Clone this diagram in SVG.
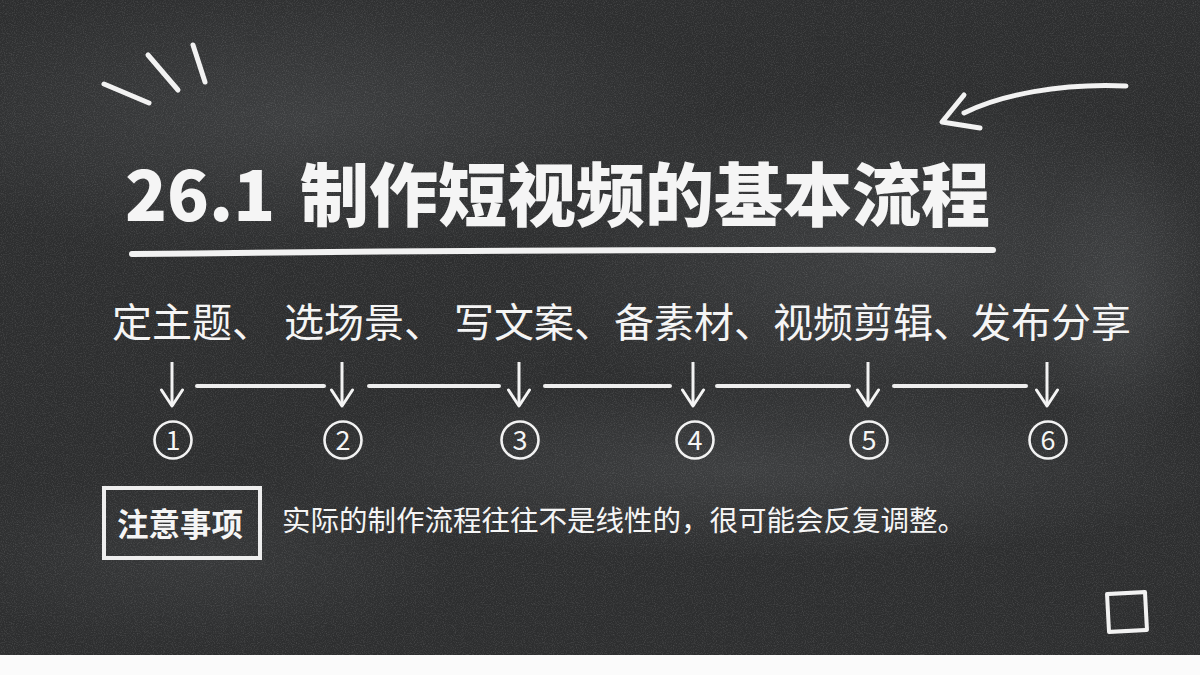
<svg xmlns="http://www.w3.org/2000/svg" width="1200" height="675" viewBox="0 0 1200 675">
  <defs>
    <radialGradient id="patch" cx="0.5" cy="0.5" r="0.5">
      <stop offset="0" stop-color="#4a4c4e" stop-opacity="0.55"/>
      <stop offset="1" stop-color="#4a4c4e" stop-opacity="0"/>
    </radialGradient>
    <filter id="grain" x="0" y="0" width="100%" height="100%">
      <feTurbulence type="fractalNoise" baseFrequency="0.9" numOctaves="2" seed="3" result="n"/>
      <feColorMatrix in="n" type="matrix" values="0 0 0 0 1  0 0 0 0 1  0 0 0 0 1  0 0 0 -2.2 1.25" result="speck"/>
      <feComposite in="speck" in2="SourceGraphic" operator="in"/>
    </filter>
    <marker id="head" viewBox="0 0 20 24" refX="18" refY="12" markerWidth="20" markerHeight="24" markerUnits="userSpaceOnUse" orient="auto">
      <path d="M2,1.5 L18,12 L2,22.5" fill="none" stroke="#f4f4f4" stroke-width="3" stroke-linecap="round" stroke-linejoin="round"/>
    </marker>
  </defs>
  <style>
    .chalk { stroke: #f2f2f2; fill: none; stroke-linecap: round; stroke-linejoin: round; }
    .title { font-family: "Noto Sans CJK SC", "Noto Sans", sans-serif; font-weight: 900; font-size: 69px; fill: #f5f5f5; }
    .step { font-family: "Noto Sans CJK SC", "Noto Sans", sans-serif; font-size: 40px; fill: #f5f5f5; }
    .num { font-family: "Noto Sans CJK SC", "Noto Sans", sans-serif; font-size: 27px; fill: #f5f5f5; text-anchor: middle; }
    .note { font-family: "Noto Sans CJK SC", "Noto Sans", sans-serif; font-size: 28.5px; fill: #f5f5f5; }
    .notehead { font-family: "Noto Sans CJK SC", "Noto Sans", sans-serif; font-weight: 700; font-size: 31.5px; fill: #f5f5f5; }
    .vline { stroke: #f2f2f2; stroke-width: 3; fill: none; }
    .hline { stroke: #eeeeee; stroke-width: 4; stroke-linecap: round; fill: none; }
    .circ { stroke: #f2f2f2; stroke-width: 2.6; fill: none; }
  </style>

  <!-- chalkboard background -->
  <g id="background">
    <rect x="0" y="0" width="1200" height="675" fill="#2d2e2f"/>
    <ellipse cx="300" cy="120" rx="420" ry="140" fill="url(#patch)"/>
    <ellipse cx="900" cy="260" rx="380" ry="170" fill="url(#patch)"/>
    <ellipse cx="750" cy="470" rx="480" ry="90" fill="url(#patch)"/>
    <ellipse cx="1120" cy="300" rx="90" ry="160" fill="url(#patch)"/>
    <ellipse cx="200" cy="560" rx="260" ry="90" fill="url(#patch)" opacity="0.6"/>
    <rect x="0" y="0" width="1200" height="655" fill="#2d2e2f" filter="url(#grain)" opacity="0.12"/>
    <rect x="0" y="655" width="1200" height="20" fill="#fbfbfb"/>
  </g>

  <!-- decorations -->
  <g id="decor-slashes" class="chalk" stroke-width="5">
    <line x1="104" y1="84" x2="149" y2="103"/>
    <line x1="148" y1="55" x2="178" y2="90"/>
    <line x1="193" y1="45" x2="205" y2="82"/>
  </g>
  <g id="decor-arrow" class="chalk" stroke-width="5">
    <path d="M1126,86 C1060,83 1000,95 964,113"/>
    <path d="M964,95 L942,122 L980,128"/>
  </g>
  <g id="decor-square" class="chalk" stroke-width="4">
    <rect x="1108" y="593" width="38" height="38" transform="rotate(-3 1127 612)"/>
  </g>

  <!-- title -->
  <g id="title">
    <text class="title" y="221"><tspan x="125">26.1</tspan><tspan x="300">制作短视频的基本流程</tspan></text>
    <path d="M132,254 Q560,249 993,250" class="chalk" stroke-width="6"/>
  </g>

  <!-- steps -->
  <g id="steps">
    <text class="step" y="337"><tspan x="112">定主题、</tspan><tspan x="284">选场景、</tspan><tspan x="454">写文案、</tspan><tspan x="614">备素材、</tspan><tspan x="773">视频剪辑、</tspan><tspan x="971">发布分享</tspan></text>
  </g>

  <g id="connectors">
    <line class="vline" x1="172" y1="362" x2="172" y2="406" marker-end="url(#head)"/>
    <line class="vline" x1="342" y1="362" x2="342" y2="406" marker-end="url(#head)"/>
    <line class="vline" x1="519" y1="362" x2="519" y2="406" marker-end="url(#head)"/>
    <line class="vline" x1="693" y1="362" x2="693" y2="406" marker-end="url(#head)"/>
    <line class="vline" x1="868" y1="362" x2="868" y2="406" marker-end="url(#head)"/>
    <line class="vline" x1="1047" y1="362" x2="1047" y2="406" marker-end="url(#head)"/>
    <line class="hline" x1="197" y1="386" x2="324" y2="386"/>
    <line class="hline" x1="369" y1="386" x2="499" y2="386"/>
    <line class="hline" x1="545" y1="386" x2="670" y2="386"/>
    <line class="hline" x1="717" y1="386" x2="849" y2="386"/>
    <line class="hline" x1="894" y1="386" x2="1026" y2="386"/>
  </g>

  <g id="n1"><circle class="circ" cx="173" cy="440" r="18.5"/><text class="num" x="173" y="450">1</text></g>
  <g id="n2"><circle class="circ" cx="343" cy="440" r="18.5"/><text class="num" x="343" y="450">2</text></g>
  <g id="n3"><circle class="circ" cx="520" cy="440" r="18.5"/><text class="num" x="520" y="450">3</text></g>
  <g id="n4"><circle class="circ" cx="695" cy="440" r="18.5"/><text class="num" x="695" y="450">4</text></g>
  <g id="n5"><circle class="circ" cx="869" cy="440" r="18.5"/><text class="num" x="869" y="450">5</text></g>
  <g id="n6"><circle class="circ" cx="1048" cy="440" r="18.5"/><text class="num" x="1048" y="450">6</text></g>

  <!-- note -->
  <g id="note">
    <rect x="104" y="488" width="156" height="70" fill="none" stroke="#eeeeee" stroke-width="4"/>
    <text class="notehead" x="117" y="536">注意事项</text>
    <text class="note" x="282" y="531">实际的制作流程往往不是线性的，很可能会反复调整。</text>
  </g>
</svg>
